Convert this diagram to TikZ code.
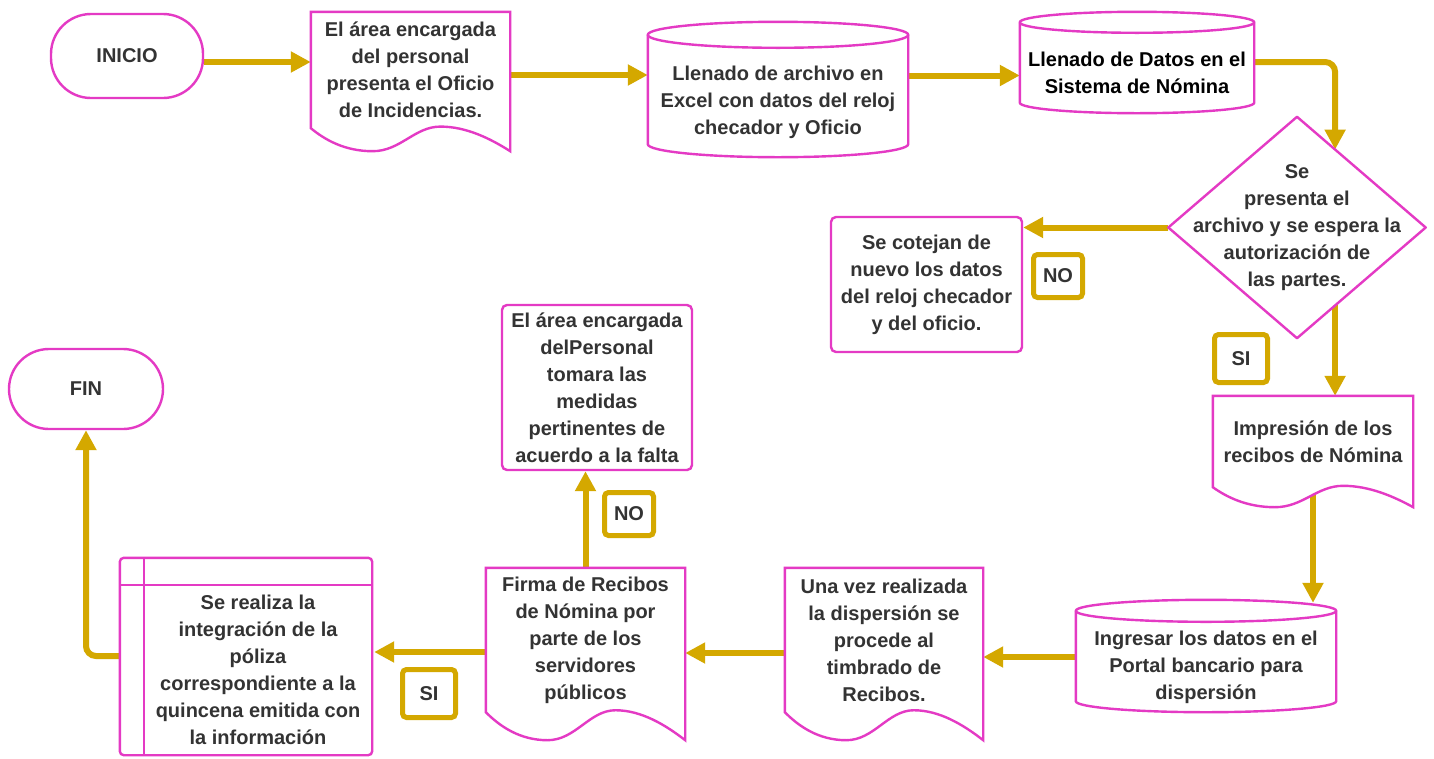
\documentclass[tikz,border=0pt]{standalone}
\usepackage{fontspec}
\setmainfont{Liberation Sans}
\usetikzlibrary{arrows.meta,calc}

\definecolor{flowpink}{RGB}{228,58,196}
\definecolor{flowgold}{RGB}{212,168,0}
\definecolor{ink}{RGB}{51,51,51}

\pgfdeclarelayer{links}
\pgfdeclarelayer{outlines}
\pgfsetlayers{links,outlines,main}

\tikzset{
  txt/.style={font=\bfseries\fontsize{20}{27}\selectfont, text=ink, align=center, inner sep=0pt},
  shp/.style={draw=flowpink, line width=2.4pt, fill=white},
  plainbox/.style={txt, shp, rounded corners=5pt},
  terminal/.style={txt, shp, rounded corners=40pt},
  arr/.style={draw=flowgold, line width=6pt, rounded corners=10pt,
              -{Triangle[length=20pt,width=20pt]}},
  tag/.style={draw=flowgold, line width=5pt, rounded corners=4pt, fill=white,
              font=\bfseries\fontsize{20}{24}\selectfont, text=ink, inner sep=0pt},
}

% document outline: straight top and sides, wavy bottom; #2 = depth of the wave
\newcommand\docshape[2]{%
  \draw[shp] (#1.north west) -- (#1.north east) -- ($(#1.south east)+(0,#2)$)
    .. controls ($(#1.south west)!0.9!(#1.south east)+(0,0.45*#2)$)
       and ($(#1.south west)!0.78!(#1.south east)+(0,-0.07*#2)$)
    .. ($(#1.south west)!0.65!(#1.south east)+(0,-0.07*#2)$)
    .. controls ($(#1.south west)!0.52!(#1.south east)+(0,-0.07*#2)$)
       and ($(#1.south west)!0.45!(#1.south east)+(0,#2)$)
    .. ($(#1.south west)!0.31!(#1.south east)+(0,#2)$)
    .. controls ($(#1.south west)!0.17!(#1.south east)+(0,#2)$)
       and ($(#1.south west)!0.07!(#1.south east)+(0,0.5*#2)$)
    .. (#1.south west) -- cycle;}

% cylinder outline around the front face of a node; #2 = vertical radius
\newcommand\cylshape[2]{%
  \draw[shp] let \p1=($(#1.east)-(#1.west)$) in
    ($(#1.north west)+(0,-#2)$) -- ($(#1.south west)+(0,-#2)$)
    arc[start angle=180, end angle=360, x radius=0.5*\x1, y radius=#2pt]
    -- ($(#1.north east)+(0,-#2)$)
    arc[start angle=0, end angle=180, x radius=0.5*\x1, y radius=#2pt] -- cycle;
  \draw[shp, fill=none] let \p1=($(#1.east)-(#1.west)$) in
    ($(#1.north west)+(0,-#2)$)
    arc[start angle=180, end angle=360, x radius=0.5*\x1, y radius=#2pt];}

\begin{document}
\begin{tikzpicture}[x=1pt,y=-1pt]
\useasboundingbox (0,0) rectangle (1434,758);

% ---- nodes ----
\node[terminal, minimum width=152, minimum height=84] (inicio) at (127,56) {INICIO};
\node[txt, minimum width=199, minimum height=116] (doc1) at (410.5,70)
  {El área encargada\\del personal\\presenta el Oficio\\de Incidencias.};
\node[txt, minimum width=260, minimum height=109] (cyl1) at (778,102.5)
  {Llenado de archivo en\\Excel con datos del reloj\\checador y Oficio};
\node[txt, text=black, minimum width=234, minimum height=80] (cyl2) at (1137,73)
  {Llenado de Datos en el\\Sistema de Nómina};
\node[txt, minimum width=257, minimum height=221] (dec) at (1297,227.5)
  {Se\\presenta el\\archivo y se espera la\\autorización de\\las partes.};
\node[plainbox, minimum width=191, minimum height=135] (cote) at (926.5,284.5)
  {Se cotejan de\\nuevo los datos\\del reloj checador\\y del oficio.};
\node[tag, minimum width=49, minimum height=43] (no1) at (1058,276) {NO};
\node[tag, minimum width=53, minimum height=48] (si1) at (1241,358.5) {SI};
\node[txt, minimum width=200, minimum height=91] (imp) at (1313,441.5)
  {Impresión de los\\recibos de Nómina};
\node[txt, minimum width=260, minimum height=90] (cyl3) at (1206,667)
  {Ingresar los datos en el\\Portal bancario para\\dispersión};
\node[txt, minimum width=198, minimum height=144] (unavez) at (884,640)
  {Una vez realizada\\la dispersión se\\procede al\\timbrado de\\Recibos.};
\node[txt, minimum width=199, minimum height=144] (firma) at (585.5,640)
  {Firma de Recibos\\de Nómina por\\parte de los\\servidores\\públicos};
\node[plainbox, minimum width=190, minimum height=165] (medidas) at (597,387.5)
  {El área encargada\\delPersonal\\tomara las\\medidas\\pertinentes de\\acuerdo a la falta};
\node[tag, minimum width=49, minimum height=43] (no2) at (629,514) {NO};
\node[tag, minimum width=53, minimum height=48] (si2) at (429,693.5) {SI};
\node[txt, minimum width=228, minimum height=170] (integ) at (258,670)
  {Se realiza la\\integración de la\\póliza\\correspondiente a la\\quincena emitida con\\la información};
\node[terminal, minimum width=154, minimum height=80] (fin) at (86,389) {FIN};

% ---- outlines of the drawn shapes ----
\begin{pgfonlayer}{outlines}
  \docshape{doc1}{23}
  \docshape{imp}{20}
  \docshape{unavez}{28}
  \docshape{firma}{28}
  \cylshape{cyl1}{13}
  \cylshape{cyl2}{10.5}
  \cylshape{cyl3}{11}
  \draw[shp, line join=round] (dec.north) -- (dec.east) -- (dec.south) -- (dec.west) -- cycle;
  \draw[shp, rounded corners=4pt] ($(integ.north west)+(-24,-27)$) rectangle (integ.south east);
  \draw[draw=flowpink, line width=2.4pt] ($(integ.north west)+(0,-27)$) -- (integ.south west);
  \draw[draw=flowpink, line width=2.4pt] ($(integ.north west)+(-24,0)$) -- (integ.north east);
\end{pgfonlayer}

% ---- connectors ----
\begin{pgfonlayer}{links}
  \fill[white] (0,0) rectangle (1434,758);
  \coordinate (a0) at ($(inicio.east)+(0,6)$);
  \coordinate (a1) at ($(doc1.east)+(0,5)$);
  \coordinate (a2) at ($(cyl1.east)+(0,-27)$);
  \coordinate (a3) at ($(cyl2.east)+(0,-11)$);
  \coordinate (d1) at ($(dec.north)!0.296!(dec.east)$);
  \coordinate (d2) at ($(dec.south)!0.296!(dec.east)$);
  \coordinate (c3) at ($(cyl3.north)+(0,-19)$);
  \coordinate (a7) at ($(cyl3.west)+(0,-10)$);
  \coordinate (a8) at ($(unavez.west)+(0,13)$);
  \coordinate (a10) at ($(firma.west)+(0,12)$);
  \coordinate (a11) at ($(integ.west)+(-24,-14)$);

  \draw[arr] (a0) -- (a0 -| doc1.west);
  \draw[arr] (a1) -- (a1 -| cyl1.west);
  \draw[arr] (a2) -- (a2 -| cyl2.west);
  \draw[arr] (a3) -| (d1);
  \draw[arr] (dec.west) -- (dec.west -| cote.east);
  \draw[arr] (d2) -- (d2 |- imp.north);
  \draw[arr] (imp.south) -- (imp.south |- c3);
  \draw[arr] (a7) -- (a7 -| unavez.east);
  \draw[arr] (a8) -- (a8 -| firma.east);
  \draw[arr] (firma.north) -- (firma.north |- medidas.south);
  \draw[arr] (a10) -- ($(a10 -| integ.east)+(2,0)$);
  \draw[arr] (a11) -| (fin.south);
\end{pgfonlayer}
\end{tikzpicture}
\end{document}
